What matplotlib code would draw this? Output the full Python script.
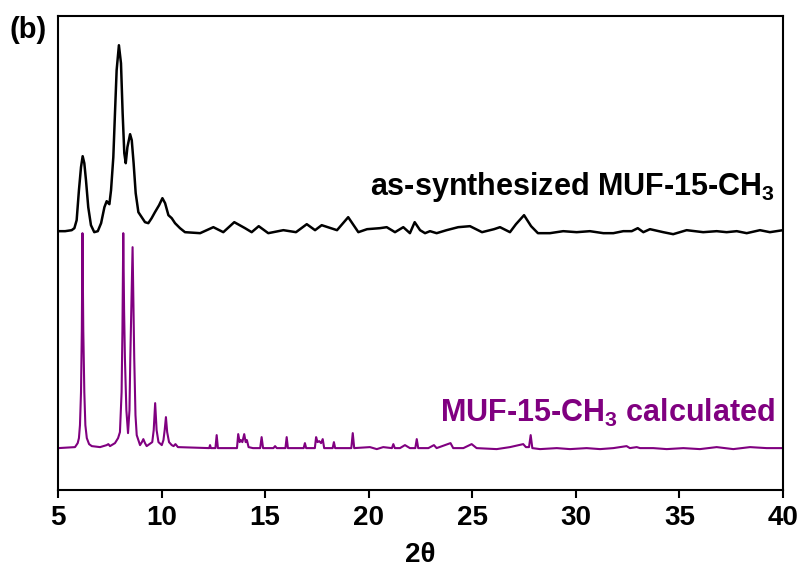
import numpy as np
import matplotlib.pyplot as plt

plt.rcParams['font.family'] = ['Liberation Sans', 'DejaVu Sans']
plt.rcParams['mathtext.fontset'] = 'custom'
plt.rcParams['mathtext.rm'] = 'Liberation Sans'
plt.rcParams['mathtext.bf'] = 'Liberation Sans:bold'

# as-synthesized pattern (2theta, intensity a.u.)
exp_2theta = [5.02, 5.34, 5.66, 5.79, 5.90, 6.01, 6.11, 6.19, 6.27, 6.35, 6.46, 6.59,
              6.75, 6.92, 7.08, 7.24, 7.35, 7.43, 7.48, 7.56, 7.67, 7.75, 7.83, 7.94,
              8.04, 8.12, 8.20, 8.27, 8.35, 8.48, 8.56, 8.65, 8.75, 8.88, 9.04, 9.20,
              9.36, 9.52, 9.68, 9.88, 10.04, 10.17, 10.33, 10.49, 10.65, 10.89, 11.13,
              11.86, 12.50, 12.98, 13.51, 14.03, 14.35, 14.69,
              15.15, 15.88, 16.49, 17.01, 17.41, 17.73, 18.47, 19.01, 19.50, 19.92, 20.54,
              20.87, 21.27, 21.67, 21.99, 22.22, 22.48, 22.72, 22.96, 23.28, 23.76, 24.32,
              24.89, 25.47, 26.05, 26.34, 26.82, 27.11, 27.50, 27.84, 28.17, 28.75, 29.39,
              30.04, 30.68, 31.33, 31.81, 32.29, 32.70, 32.99, 33.26, 33.58, 34.22, 34.70,
              35.35, 36.15, 36.80, 37.28, 37.77, 38.25, 38.89, 39.37, 40.00]
exp_int = [259, 259, 260, 262, 270, 300, 323, 334, 327, 310, 283, 265,
           258, 259, 267, 283, 289, 287, 286, 300, 333, 377, 420, 445,
           427, 377, 337, 327, 343, 356, 350, 327, 297, 278, 273, 268,
           267, 272, 278, 285, 292, 287, 275, 272, 267, 262, 258,
           257, 263, 258, 268, 262, 258, 264,
           257, 260, 258, 266, 260, 265, 260, 273, 258, 261, 262,
           263, 258, 263, 257, 268, 260, 257, 259, 257, 260, 263,
           264, 258, 261, 263, 258, 266, 275, 264, 257, 257, 259,
           258, 259, 257, 257, 259, 259, 262, 258, 261, 258, 256,
           260, 258, 259, 258, 259, 257, 260, 258, 260]

# calculated pattern, (2theta, intensity) pairs
calc_points = [
    (5.01, 42), (5.82, 43), (5.95, 47), (6.01, 52), (6.06, 65), (6.11, 98), (6.15, 160),
    (6.18, 257), (6.22, 160), (6.27, 98), (6.32, 65), (6.39, 52), (6.50, 46), (6.63, 44),
    (7.03, 43), (7.35, 45), (7.43, 46), (7.51, 44), (7.75, 47), (7.90, 52), (7.99, 58),
    (8.07, 98), (8.11, 160), (8.15, 257), (8.19, 180), (8.23, 132), (8.30, 80), (8.38, 57),
    (8.45, 80), (8.49, 132), (8.56, 200), (8.60, 243), (8.64, 190), (8.68, 132), (8.74, 75),
    (8.80, 55), (8.96, 45), (9.05, 48), (9.12, 51), (9.20, 47), (9.28, 44), (9.55, 48),
    (9.62, 60), (9.69, 87), (9.76, 60), (9.85, 48), (10.01, 45), (10.09, 50), (10.15, 60),
    (10.21, 73), (10.27, 58), (10.36, 48), (10.49, 45), (10.58, 44), (10.67, 46), (10.79, 43),
    (12.18, 42), (12.30, 42), (12.34, 45), (12.38, 42), (12.60, 42), (12.66, 55), (12.72, 42),
    (13.64, 42), (13.70, 56), (13.77, 48), (13.83, 50), (13.90, 48), (13.99, 56), (14.06, 48),
    (14.12, 50), (14.20, 43), (14.41, 42), (14.76, 42), (14.83, 53), (14.90, 42), (15.40, 42),
    (15.48, 44), (15.56, 42), (15.98, 42), (16.04, 53), (16.10, 42), (16.86, 42), (16.92, 47),
    (16.98, 42), (17.40, 42), (17.46, 53), (17.53, 48), (17.61, 49), (17.70, 47), (17.78, 51),
    (17.85, 42), (18.26, 42), (18.32, 48), (18.38, 42), (19.16, 42), (19.23, 57), (19.30, 42),
    (20.06, 43), (20.39, 41), (20.70, 43), (21.12, 42), (21.19, 46), (21.26, 42), (21.51, 42),
    (21.75, 45), (21.99, 42), (22.25, 42), (22.32, 51), (22.39, 42), (22.88, 42), (23.15, 45),
    (23.28, 42), (23.95, 47), (24.08, 42), (24.57, 42), (24.97, 46), (25.21, 42), (26.18, 41),
    (26.82, 43), (27.46, 46), (27.59, 43), (27.74, 43), (27.82, 55), (27.90, 42), (28.27, 41),
    (29.08, 42), (29.72, 41), (30.52, 42), (31.17, 41), (31.81, 42), (32.45, 44), (32.61, 42),
    (32.94, 43), (33.10, 42), (33.74, 42), (34.39, 41), (35.19, 42), (35.99, 41), (36.80, 43),
    (37.60, 41), (38.41, 43), (39.21, 42), (40.00, 42),
]
calc_2theta = [p[0] for p in calc_points]
calc_int = [p[1] for p in calc_points]

purple = '#800080'

fig = plt.figure(figsize=(8.08, 5.8), dpi=100)
ax = fig.add_axes([0.0718, 0.155, 0.8972, 0.817])

ax.plot(exp_2theta, exp_int, color='black', lw=1.8, solid_joinstyle='round')
ax.plot(calc_2theta, calc_int, color=purple, lw=1.5, solid_joinstyle='round')

ax.set_xlim(5, 40)
ax.set_ylim(0, 474)
ax.set_xticks(np.arange(5, 41, 5))
ax.set_yticks([])
ax.tick_params(axis='x', direction='out', length=6, width=1.5, labelsize=20, pad=5)
for lbl in ax.get_xticklabels():
    lbl.set_fontweight('bold')
    lbl.set_family(['Liberation Sans Narrow', 'Liberation Sans'])
for sp in ax.spines.values():
    sp.set_linewidth(1.5)

ax.set_xlabel('2θ', fontsize=20, fontweight='bold', labelpad=8,
              family=['Liberation Sans Narrow', 'Liberation Sans'])

ax.text(39.6, 295, r'as-synthesized MUF-15-CH$_\mathbf{3}$', ha='right', va='baseline',
        fontsize=22, fontweight='bold', color='black')
ax.text(39.6, 68, r'MUF-15-CH$_\mathbf{3}$ calculated', ha='right', va='baseline',
        fontsize=22, fontweight='bold', color=purple)

fig.text(0.012, 0.935, '(b)', fontsize=21, fontweight='bold')

fig.savefig('out.png', dpi=100)
